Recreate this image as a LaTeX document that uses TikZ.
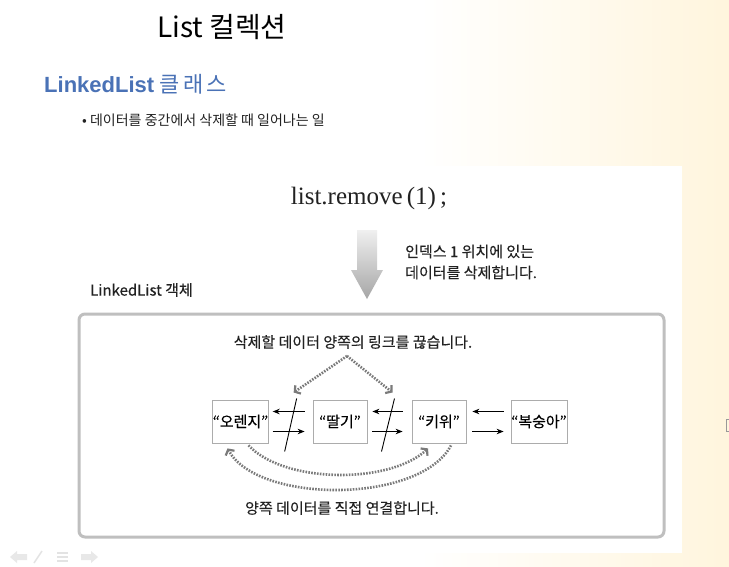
\documentclass[tikz,border=0pt]{standalone}
\usepackage{fontspec}
\setmainfont{Noto Sans CJK KR}
\newfontfamily\dg[FakeBold=0.3]{Noto Sans CJK KR}
\newfontfamily\lat{Liberation Sans}
\newfontfamily\ser{Liberation Serif}
\usetikzlibrary{arrows.meta,calc}
\definecolor{yellowbg}{HTML}{FFF5DD}
\definecolor{blueT}{HTML}{4A72B6}
\definecolor{txt}{HTML}{222222}
\tikzset{
  fs/.style={font=\fontsize{#1}{#1}\selectfont},
  dfs/.style={font=\dg\fontsize{#1}{#1}\selectfont},
  item/.style={draw=gray!65, line width=0.8pt, fill=white, minimum width=55pt, minimum height=43pt, inner sep=0pt, font=\dg\fontsize{15}{18}\selectfont},
  link/.style={-{Stealth[length=7pt,width=5.5pt]}, line width=0.9pt, black},
  cutline/.style={line width=0.9pt, black},
  dotarrow/.style={draw=black!52, line width=2.6pt, dash pattern=on 1.6pt off 1.3pt,
    -{Straight Barb[length=4pt,width=10pt,line width=2.2pt]}},
  navicon/.style={fill=gray!18, draw=none}
}
\begin{document}
\begin{tikzpicture}[x=1pt,y=-1pt]
\useasboundingbox (0,0) rectangle (729,566);
% background
\fill[white] (0,0) rectangle (729,566);
\shade[left color=white, right color=yellowbg] (420,0) rectangle (729,566);
\fill[white] (72,166) rectangle (682,553);

% headings
\node[fs=28, text=black] (title) at (222,27) {List 컬렉션};
\node[anchor=west, inner sep=0pt, text=blueT, fs=22] (sub) at (44,84) {{\lat\bfseries LinkedList} 클\,래\,스};
\node[anchor=west, inner sep=0pt, text=txt, fs=14] (bul) at (82,120) {• 데이터를 중간에서 삭제할 때 일어나는 일};

% code and arrow
\node[font=\ser\fontsize{25}{28}\selectfont, text=txt] (code) at (369,198) {list.remove\,(1)\,;};
\shade[top color=gray!12, bottom color=gray!70] (357,230) -- (377,230) -- (377,270) -- (383,270) -- (367,299) -- (351,270) -- (357,270) -- cycle;
\node[anchor=west, align=left, inner sep=0pt, text=txt, font=\dg\fontsize{15}{21}\selectfont] (note) at (405,262) {인덱스 1 위치에 있는\\데이터를 삭제합니다.};

% object frame
\node[anchor=west, inner sep=0pt, text=txt, dfs=15] (objlbl) at (90,290) {LinkedList 객체};
\draw[gray!50, line width=3pt, rounded corners=6pt, fill=white] (79,314) rectangle (664,537);

\node[text=txt, dfs=15] (cut) at (353,342) {삭제할 데이터 양쪽의 링크를 끊습니다.};
\node[text=txt, dfs=15] (join) at (342,508) {양쪽 데이터를 직접 연결합니다.};

% items
\node[item] (o) at (240.5,421.5) {“오렌지”};
\node[item, minimum width=54pt] (d) at (340,421.5) {“딸기”};
\node[item, minimum width=54pt] (k) at (439,421.5) {“키위”};
\node[item, minimum width=56pt] (b) at (539,421.5) {“복숭아”};

% links (yshift is in canvas direction: positive = up)
\draw[link, shorten <=8pt, shorten >=4pt] ([yshift=10pt]d.west) -- ([yshift=10pt]o.east);
\draw[link, shorten <=4pt, shorten >=8pt] ([yshift=-10pt]o.east) -- ([yshift=-10pt]d.west);
\draw[link, shorten <=9pt, shorten >=5pt] ([yshift=10pt]k.west) -- ([yshift=10pt]d.east);
\draw[link, shorten <=5pt, shorten >=9pt] ([yshift=-10pt]d.east) -- ([yshift=-10pt]k.west);
\draw[link, shorten <=7pt, shorten >=6pt] ([yshift=10pt]b.west) -- ([yshift=10pt]k.east);
\draw[link, shorten <=6pt, shorten >=7pt] ([yshift=-10pt]k.east) -- ([yshift=-10pt]b.west);

% cut marks
\coordinate (m1) at ($(o.east)!0.5!(d.west)$);
\coordinate (m2) at ($(d.east)!0.5!(k.west)$);
\coordinate (s1t) at ($(m1)+(6,-23)$);
\coordinate (s1b) at ($(m1)+(-6,30)$);
\coordinate (s2t) at ($(m2)+(5,-23)$);
\coordinate (s2b) at ($(m2)+(-8,30)$);
\draw[cutline] (s1t) -- (s1b);
\draw[cutline] (s2t) -- (s2b);

% dotted arrows (cut)
\coordinate (peak) at (347,356);
\draw[dotarrow] (peak) -- ($(s1t)+(-3,-6)$);
\draw[dotarrow] (peak) -- ($(s2t)+(-2,-6)$);

% dotted arcs (join)
\draw[dotarrow] ([xshift=8pt,yshift=-2pt]o.south) .. controls (285,484) and (390,484) .. ([xshift=-11pt,yshift=-5pt]k.south);
\draw[dotarrow] ([xshift=12pt,yshift=-2pt]k.south) .. controls (420,504) and (258,504) .. ([xshift=-13pt,yshift=-5pt]o.south);

% slide nav icons
\fill[navicon] (10,557) -- (17,551) -- (17,554) -- (27,554) -- (27,560) -- (17,560) -- (17,563) -- cycle;
\draw[gray!22, line width=1.5pt] (34,563) -- (42,551);
\draw[gray!22, line width=1.2pt] (57,553) -- (68,553) (57,557) -- (68,557) (57,561) -- (68,561);
\fill[navicon] (98,557) -- (91,551) -- (91,554) -- (81,554) -- (81,560) -- (91,560) -- (91,563) -- cycle;
% edge artifact
\draw[gray!80, line width=0.6pt] (729,419) -- (726.5,419) -- (726.5,431) -- (729,431);
\end{tikzpicture}
\end{document}
